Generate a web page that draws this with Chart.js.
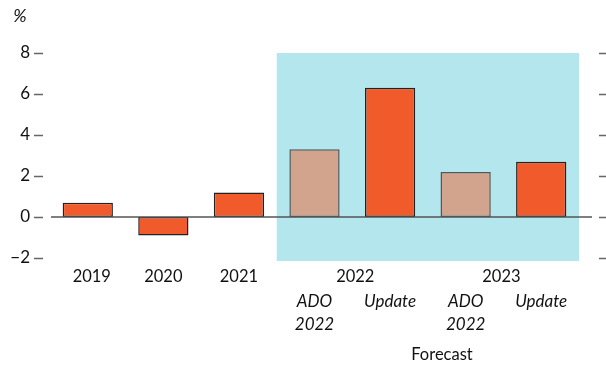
<!DOCTYPE html>
<html>
<head>
<meta charset="utf-8">
<script src="https://cdn.jsdelivr.net/npm/chart.js@4"></script>
<style>
  html, body { margin: 0; padding: 0; background: #fff; }
  #wrap { width: 606px; height: 366px; position: relative; }
</style>
</head>
<body>
<div id="wrap"><canvas id="growthChart"></canvas></div>
<script>
const categories = ['2019', '2020', '2021', '2022 ADO 2022', '2022 Update', '2023 ADO 2022', '2023 Update'];
const growth = [0.7, -0.9, 1.2, 3.3, 6.3, 2.2, 2.7];
const barKinds = ['update', 'update', 'update', 'ado', 'update', 'ado', 'update'];
const yearLabels = ['2019', '2020', '2021', '2022', '2023'];
const subLabels = ['', '', '', 'ADO|2022', 'Update', 'ADO|2022', 'Update'];
const yTicks = [-2, 0, 2, 4, 6, 8];

const FONT = 'Lato, "Open Sans", sans-serif';
const ORANGE = '#F15A2B';
const TAN = '#D2A38D';
const CYAN = '#B3E7ED';

const overlay = {
  id: 'overlay',
  beforeDatasetsDraw(chart) {
    const { ctx, chartArea: a, scales: { x, y } } = chart;
    const left = (x.getPixelForValue(2) + x.getPixelForValue(3)) / 2;
    ctx.save();
    ctx.fillStyle = CYAN;
    ctx.fillRect(left, y.getPixelForValue(8), a.right - left, y.getPixelForValue(-2) + 3 - y.getPixelForValue(8));
    ctx.restore();
  },
  afterDatasetsDraw(chart) {
    const { ctx, chartArea: a, scales: { x, y } } = chart;
    ctx.save();
    // zero line
    ctx.strokeStyle = '#555';
    ctx.lineWidth = 1.5;
    const y0 = y.getPixelForValue(0);
    ctx.beginPath();
    ctx.moveTo(a.left + 1, y0);
    ctx.lineTo(592, y0);
    ctx.stroke();
    // tick dashes both sides
    ctx.strokeStyle = '#666';
    yTicks.forEach(v => {
      const py = Math.round(y.getPixelForValue(v)) + 0.5;
      ctx.beginPath();
      ctx.moveTo(34, py); ctx.lineTo(43, py);
      ctx.moveTo(599, py); ctx.lineTo(606, py);
      ctx.stroke();
    });
    // labels
    ctx.fillStyle = '#111';
    ctx.textAlign = 'center';
    ctx.textBaseline = 'middle';
    ctx.font = '16.5px ' + FONT;
    const cx = i => x.getPixelForValue(i);
    ctx.fillText(yearLabels[0], cx(0) + 4, 277);
    ctx.fillText(yearLabels[1], cx(1), 277);
    ctx.fillText(yearLabels[2], cx(2), 277);
    ctx.fillText(yearLabels[3], (cx(3) + cx(4)) / 2 + 3, 277);
    ctx.fillText(yearLabels[4], (cx(5) + cx(6)) / 2 - 2, 277);
    ctx.font = 'italic 17px ' + FONT;
    subLabels.forEach((s, i) => {
      if (!s) return;
      s.split('|').forEach((line, j) => ctx.fillText(line, cx(i), 302 + j * 23));
    });
    ctx.font = 'italic 18px ' + FONT;
    ctx.fillText('%', 20, 16);
    ctx.font = '16.5px ' + FONT;
    ctx.fillText('Forecast', 442, 355);
    ctx.restore();
  }
};

new Chart(document.getElementById('growthChart'), {
  type: 'bar',
  data: {
    labels: categories,
    datasets: [{
      data: growth,
      backgroundColor: barKinds.map(k => k === 'ado' ? TAN : ORANGE),
      borderColor: barKinds.map(k => k === 'ado' ? '#555' : '#222'),
      borderWidth: 1.5,
      borderSkipped: false,
      categoryPercentage: 1,
      barPercentage: 0.665
    }]
  },
  options: {
    responsive: true,
    maintainAspectRatio: false,
    animation: false,
    layout: { padding: { top: 53, right: 27, bottom: 108, left: 0 } },
    plugins: { legend: { display: false }, tooltip: { enabled: false } },
    scales: {
      x: { display: false },
      y: {
        min: -2, max: 8,
        afterFit: s => { s.width = 50; },
        afterBuildTicks: s => { s.ticks = yTicks.map(v => ({ value: v })); },
        border: { display: false },
        grid: { display: false, drawTicks: false },
        ticks: {
          padding: 20,
          color: '#111',
          font: { family: FONT, size: 17 },
          callback: v => v < 0 ? '\u2212' + Math.abs(v) : String(v)
        }
      }
    }
  },
  plugins: [overlay]
});
</script>
</body>
</html>
